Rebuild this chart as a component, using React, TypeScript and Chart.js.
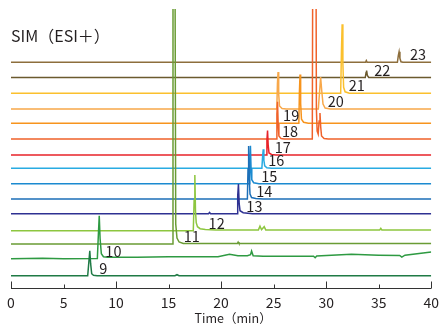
import React, { useEffect, useRef } from "react";
import { Chart, registerables } from "chart.js";

Chart.register(...registerables);

// ---- data ----
const panelTitle = "SIM（ESI＋）";
const axisTitle = "Time（min）";
const xTicks = [0, 5, 10, 15, 20, 25, 30, 35, 40];
const compounds = ["9", "10", "11", "12", "13", "14", "15", "16", "17", "18", "19", "20", "21", "22", "23"];
const traceColors = [
  "#1f7a45", "#2e9a42", "#6a9c34", "#8dc63f", "#2e3192", "#1c6fb8", "#1b8ad0", "#29abe2",
  "#e8232a", "#f0622a", "#f7941d", "#f8a84a", "#fbc02d", "#6b5a2e", "#8d6e3c",
];
// vertical offsets of the stacked traces (intensity units)
const baselineOffsets = [12.3, 29.3, 44, 57.3, 74.3, 89, 104.3, 119.7, 133, 149, 164.7, 179, 194.7, 210.5, 225.7];
// time where each compound label sits
const labelTimes = [8.41, 8.98, 16.45, 18.81, 22.4, 23.35, 23.82, 24.48, 25.11, 25.8, 25.9, 30.15, 32.14, 34.57, 37.97];

// [time (min), intensity above the trace baseline]
const trace9 = [[0, 0], [7.3, 0], [7.42, 15], [7.5, 25], [7.58, 12], [7.68, 2], [7.85, 0.5], [8.2, 0], [15.6, 0], [15.8, 1], [16.0, 0], [40, 0]];
const trace10 = [[0, 0], [3, 0.5], [5, 0], [8.22, 0.3], [8.32, 25], [8.4, 43], [8.48, 20], [8.6, 5], [8.8, 2], [9.2, 1.5], [12, 1.5], [15, 2], [18, 2], [19.7, 2], [20.8, 4.4], [21.6, 3], [22.5, 3], [22.8, 4], [22.9, 7.7], [23.05, 3], [24, 2.5], [26, 2.5], [28.8, 2.5], [28.95, 1], [29.1, 2.8], [32.4, 4.4], [35, 3.5], [37, 3.2], [37.2, 1.5], [37.5, 3.5], [40, 6.7]];
const trace11 = [[0, 0], [15.35, 0], [15.42, 320], [15.6, 320], [15.68, 20], [15.8, 6], [16.0, 2], [16.4, 0.5], [17, 0.5], [21.55, 0.5], [21.62, 2], [21.7, 0.5], [40, 0.5]];
const trace12 = [[0, 0], [17.35, 0], [17.43, 30], [17.5, 55.7], [17.56, 20], [17.63, 8], [17.75, 4], [18, 2], [18.5, 1.2], [19.5, 0.8], [23.55, 0.8], [23.7, 4.5], [23.85, 1], [24.1, 4], [24.25, 0.8], [35.1, 0.8], [35.2, 2.3], [35.3, 0.8], [40, 0.8]];
const trace13 = [[0, 0], [18.8, 0], [18.9, 1.2], [19.0, 0], [21.52, 0], [21.58, 18], [21.65, 29.7], [21.72, 10], [21.8, 3], [22.1, 1], [23, 0], [40, 0]];
const trace14 = [[0, 0], [22.5, 0], [22.56, 30], [22.62, 53], [22.68, 20], [22.75, 5], [22.9, 1.5], [23.3, 0.5], [24, 0], [40, 0]];
const trace15 = [[0, 0], [22.68, 0], [22.73, 25], [22.79, 38], [22.85, 15], [22.92, 4], [23.1, 1], [23.6, 0], [40, 0]];
const trace16 = [[0, 0], [23.88, 0], [23.95, 12], [24.01, 19], [24.07, 8], [24.15, 2.5], [24.35, 0.5], [24.8, 0], [40, 0]];
const trace17 = [[0, 0], [24.3, 0], [24.36, 15], [24.42, 24.5], [24.48, 10], [24.56, 2], [24.8, 0.5], [25.2, 0], [40, 0]];
const trace18 = [[0, 0], [25.25, 0], [25.31, 25], [25.37, 37.3], [25.43, 15], [25.5, 3], [25.7, 0.5], [26, 0], [28.68, 0], [28.75, 300], [29.0, 300], [29.07, 30], [29.14, 8], [29.24, 5], [29.33, 18], [29.41, 26], [29.48, 12], [29.56, 3], [29.8, 0.5], [30.2, 0], [40, 0]];
const trace19 = [[0, 0], [27.4, 0], [27.45, 30], [27.51, 48.8], [27.57, 20], [27.65, 4], [27.85, 1], [28.3, 0], [40, 0]];
const trace20 = [[0, 0], [25.3, 0], [25.36, 25], [25.42, 37], [25.48, 15], [25.56, 3], [25.8, 0.5], [26.2, 0], [29.25, 0], [29.38, 18], [29.47, 32], [29.58, 18], [29.7, 5], [29.9, 1], [30.4, 0], [40, 0]];
const trace21 = [[0, 0], [31.38, 0], [31.45, 40], [31.52, 69], [31.59, 30], [31.66, 6], [31.8, 1.5], [32.2, 0], [40, 0]];
const trace22 = [[0, 0], [33.72, 0], [33.8, 5], [33.85, 7], [33.92, 2], [34.05, 0], [40, 0]];
const trace23 = [[0, 0], [33.75, 0], [33.82, 1.8], [33.9, 0], [36.78, 0], [36.87, 7], [36.94, 10.5], [37.02, 4], [37.12, 0.5], [37.3, 0], [40, 0]];

const traces = [trace9, trace10, trace11, trace12, trace13, trace14, trace15, trace16, trace17, trace18, trace19, trace20, trace21, trace22, trace23];

const FONT = '"Noto Sans CJK JP", "Noto Sans", sans-serif';
const TEXT = "#231f20";

const decorPlugin = {
  id: "decor",
  afterDraw(chart: any) {
    const { ctx, chartArea, scales } = chart;
    const xs = scales.x;
    const ys = scales.y;
    ctx.save();
    // axis line + inward ticks
    ctx.strokeStyle = "#333";
    ctx.lineWidth = 1;
    const yb = Math.round(chartArea.bottom) + 0.5;
    ctx.beginPath();
    ctx.moveTo(xs.getPixelForValue(xTicks[0]), yb);
    ctx.lineTo(xs.getPixelForValue(xTicks[xTicks.length - 1]), yb);
    xTicks.forEach((t) => {
      const px = Math.round(xs.getPixelForValue(t)) + 0.5;
      const len = t % 10 === 0 ? 7 : 4;
      ctx.moveTo(px, yb);
      ctx.lineTo(px, yb - len);
    });
    ctx.stroke();

    // panel title
    ctx.fillStyle = TEXT;
    ctx.font = `16px ${FONT}`;
    ctx.textAlign = "left";
    ctx.textBaseline = "alphabetic";
    ctx.fillText(panelTitle, 11, 42);

    // compound labels
    ctx.font = `14.5px ${FONT}`;
    compounds.forEach((c, i) => {
      const px = xs.getPixelForValue(labelTimes[i]);
      const py = ys.getPixelForValue(baselineOffsets[i]) - 2;
      ctx.fillText(c, px, py);
    });

    // axis title
    ctx.font = `12.5px ${FONT}`;
    ctx.textAlign = "center";
    ctx.textBaseline = "middle";
    ctx.fillText(axisTitle, (chartArea.left + chartArea.right) / 2 + 12, 318);
    ctx.restore();
  },
};

export default function App() {
  const ref = useRef<HTMLCanvasElement>(null);
  useEffect(() => {
    document.body.style.margin = "0";
    const canvas = ref.current;
    if (!canvas) return;
    const datasets = traces.map((tr, i) => ({
      label: compounds[i],
      data: tr.map(([x, y]) => ({ x, y: y + baselineOffsets[i] })),
      borderColor: traceColors[i],
      backgroundColor: traceColors[i],
      borderWidth: 1.5,
      pointRadius: 0,
      tension: 0,
      fill: false,
    }));
    const chart = new Chart(canvas, {
      type: "line",
      data: { datasets },
      options: {
        animation: false,
        responsive: false,
        events: [],
        layout: { padding: { left: 11, right: 10.7, top: 9, bottom: 8.2 } },
        plugins: { legend: { display: false }, tooltip: { enabled: false }, title: { display: false } },
        scales: {
          x: {
            type: "linear",
            min: 0,
            max: 40,
            grid: { display: false, drawTicks: false },
            border: { display: false },
            afterBuildTicks: (s: any) => {
              s.ticks = xTicks.map((v) => ({ value: v }));
            },
            ticks: {
              color: TEXT,
              font: { family: FONT, size: 14 },
              padding: 6,
              maxRotation: 0,
              autoSkip: false,
            },
          },
          y: { type: "linear", display: false, min: 0, max: 279 },
        },
      },
      plugins: [decorPlugin],
    });
    return () => chart.destroy();
  }, []);
  return <canvas ref={ref} width={445} height={325} />;
}
